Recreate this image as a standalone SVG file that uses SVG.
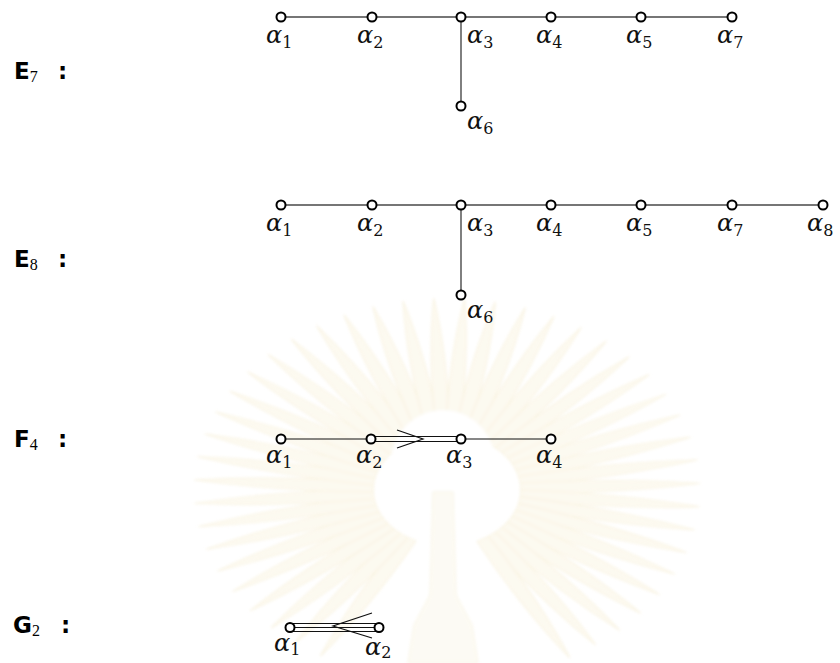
<svg xmlns="http://www.w3.org/2000/svg" xmlns:xlink="http://www.w3.org/1999/xlink" width="840" height="663" viewBox="0 0 840 663">
<style>
.edge{stroke:#4a4a4a;stroke-width:1.4;fill:none}
.edgeb{stroke:#111;stroke-width:1.2;fill:none}
.node{fill:#fff;stroke:#000;stroke-width:2}
.al{font-family:"DejaVu Serif","Liberation Serif",serif;font-style:italic;font-size:24px;fill:#111}
.sub{font-style:normal;font-size:16px}
.lab{font-family:"DejaVu Sans","Liberation Sans",sans-serif;font-weight:bold;font-size:23px;fill:#000}
.lsub{font-family:"Liberation Serif",serif;font-weight:normal;font-size:16px}
.ray{fill:#fcf8ea;stroke:#f5ecd0;stroke-width:0.8}
</style>
<defs>
<path id="ray" d="M -5 -56 Q -8 -130 0 -192 Q 8 -130 5 -56 Z"/>
<filter id="soft" x="-10%" y="-10%" width="120%" height="120%"><feGaussianBlur stdDeviation="1.8"/></filter>
</defs>
<rect width="840" height="663" fill="#fff"/>
<g id="watermark" opacity="0.7" filter="url(#soft)">
<g transform="translate(447,490) scale(1.32,1)" class="ray">
<use xlink:href="#ray" transform="rotate(-150)"/><use xlink:href="#ray" transform="rotate(-143)"/><use xlink:href="#ray" transform="rotate(-136)"/><use xlink:href="#ray" transform="rotate(-129)"/><use xlink:href="#ray" transform="rotate(-122)"/><use xlink:href="#ray" transform="rotate(-115)"/><use xlink:href="#ray" transform="rotate(-108)"/><use xlink:href="#ray" transform="rotate(-101)"/><use xlink:href="#ray" transform="rotate(-94)"/><use xlink:href="#ray" transform="rotate(-87)"/><use xlink:href="#ray" transform="rotate(-80)"/><use xlink:href="#ray" transform="rotate(-73)"/><use xlink:href="#ray" transform="rotate(-66)"/><use xlink:href="#ray" transform="rotate(-59)"/><use xlink:href="#ray" transform="rotate(-52)"/><use xlink:href="#ray" transform="rotate(-45)"/><use xlink:href="#ray" transform="rotate(-38)"/><use xlink:href="#ray" transform="rotate(-31)"/><use xlink:href="#ray" transform="rotate(-24)"/><use xlink:href="#ray" transform="rotate(-17)"/><use xlink:href="#ray" transform="rotate(-10)"/><use xlink:href="#ray" transform="rotate(-3)"/><use xlink:href="#ray" transform="rotate(4)"/><use xlink:href="#ray" transform="rotate(11)"/><use xlink:href="#ray" transform="rotate(18)"/><use xlink:href="#ray" transform="rotate(25)"/><use xlink:href="#ray" transform="rotate(32)"/><use xlink:href="#ray" transform="rotate(39)"/><use xlink:href="#ray" transform="rotate(46)"/><use xlink:href="#ray" transform="rotate(53)"/><use xlink:href="#ray" transform="rotate(60)"/><use xlink:href="#ray" transform="rotate(67)"/><use xlink:href="#ray" transform="rotate(74)"/><use xlink:href="#ray" transform="rotate(81)"/><use xlink:href="#ray" transform="rotate(88)"/><use xlink:href="#ray" transform="rotate(95)"/><use xlink:href="#ray" transform="rotate(102)"/><use xlink:href="#ray" transform="rotate(109)"/><use xlink:href="#ray" transform="rotate(116)"/><use xlink:href="#ray" transform="rotate(123)"/><use xlink:href="#ray" transform="rotate(130)"/><use xlink:href="#ray" transform="rotate(137)"/><use xlink:href="#ray" transform="rotate(144)"/><use xlink:href="#ray" transform="rotate(151)"/>
</g>
<circle cx="443" cy="462" r="52" fill="#fff"/>
<path d="M 433 492 L 453 492 L 456 595 L 472 625 L 478 663 L 408 663 L 414 625 L 430 595 Z" fill="#fcf9f0" stroke="#f5eed6" stroke-width="1"/>
</g>

<g id="labels">
<text class="lab" x="14" y="79">E<tspan class="lsub" dy="3">7</tspan></text><text class="lab" x="58" y="79">:</text>
<text class="lab" x="14" y="267">E<tspan class="lsub" dy="3">8</tspan></text><text class="lab" x="58" y="267">:</text>
<text class="lab" x="14" y="447">F<tspan class="lsub" dy="3">4</tspan></text><text class="lab" x="58" y="447">:</text>
<text class="lab" x="13" y="633">G<tspan class="lsub" dy="3">2</tspan></text><text class="lab" x="61" y="633">:</text>
</g>

<g id="connectors">
<path class="edge" d="M281 17 H732 M461 17 V106"/>
<path class="edge" d="M281 205 H823 M461 205 V295"/>
<path class="edgeb" d="M281 439 H371 M461 439 H551 M371 436.5 H461 M371 441.5 H461 M397 430 L423 439 L397 448"/>
<path class="edgeb" d="M290 623.5 H379 M290 627.5 H379 M290 631.5 H379 M372 613 L333 626 L372 638"/>
</g>

<g id="E7">
<g id="e7-a1"><circle class="node" cx="281" cy="17" r="4.5"/><text class="al" x="266" y="43">α<tspan class="sub" dy="5">1</tspan></text></g>
<g id="e7-a2"><circle class="node" cx="372" cy="17" r="4.5"/><text class="al" x="357" y="43">α<tspan class="sub" dy="5">2</tspan></text></g>
<g id="e7-a3"><circle class="node" cx="461" cy="17" r="4.5"/><text class="al" x="467" y="43">α<tspan class="sub" dy="5">3</tspan></text></g>
<g id="e7-a4"><circle class="node" cx="551" cy="17" r="4.5"/><text class="al" x="536" y="43">α<tspan class="sub" dy="5">4</tspan></text></g>
<g id="e7-a5"><circle class="node" cx="641" cy="17" r="4.5"/><text class="al" x="626" y="43">α<tspan class="sub" dy="5">5</tspan></text></g>
<g id="e7-a7"><circle class="node" cx="732" cy="17" r="4.5"/><text class="al" x="717" y="43">α<tspan class="sub" dy="5">7</tspan></text></g>
<g id="e7-a6"><circle class="node" cx="461" cy="106" r="4.5"/><text class="al" x="467" y="129">α<tspan class="sub" dy="5">6</tspan></text></g>
</g>

<g id="E8">
<g id="e8-a1"><circle class="node" cx="281" cy="205" r="4.5"/><text class="al" x="266" y="231">α<tspan class="sub" dy="5">1</tspan></text></g>
<g id="e8-a2"><circle class="node" cx="372" cy="205" r="4.5"/><text class="al" x="357" y="231">α<tspan class="sub" dy="5">2</tspan></text></g>
<g id="e8-a3"><circle class="node" cx="461" cy="205" r="4.5"/><text class="al" x="467" y="231">α<tspan class="sub" dy="5">3</tspan></text></g>
<g id="e8-a4"><circle class="node" cx="551" cy="205" r="4.5"/><text class="al" x="536" y="231">α<tspan class="sub" dy="5">4</tspan></text></g>
<g id="e8-a5"><circle class="node" cx="641" cy="205" r="4.5"/><text class="al" x="626" y="231">α<tspan class="sub" dy="5">5</tspan></text></g>
<g id="e8-a7"><circle class="node" cx="732" cy="205" r="4.5"/><text class="al" x="717" y="231">α<tspan class="sub" dy="5">7</tspan></text></g>
<g id="e8-a8"><circle class="node" cx="823" cy="205" r="4.5"/><text class="al" x="807" y="231">α<tspan class="sub" dy="5">8</tspan></text></g>
<g id="e8-a6"><circle class="node" cx="461" cy="295" r="4.5"/><text class="al" x="467" y="318">α<tspan class="sub" dy="5">6</tspan></text></g>
</g>

<g id="F4">
<g id="f4-a1"><circle class="node" cx="281" cy="439" r="4.5"/><text class="al" x="266" y="463">α<tspan class="sub" dy="5">1</tspan></text></g>
<g id="f4-a2"><circle class="node" cx="371" cy="439" r="4.5"/><text class="al" x="356" y="463">α<tspan class="sub" dy="5">2</tspan></text></g>
<g id="f4-a3"><circle class="node" cx="461" cy="439" r="4.5"/><text class="al" x="446" y="463">α<tspan class="sub" dy="5">3</tspan></text></g>
<g id="f4-a4"><circle class="node" cx="551" cy="439" r="4.5"/><text class="al" x="536" y="463">α<tspan class="sub" dy="5">4</tspan></text></g>
</g>

<g id="G2">
<g id="g2-a1"><circle class="node" cx="290" cy="627.5" r="4.5"/><text class="al" x="274" y="651">α<tspan class="sub" dy="4">1</tspan></text></g>
<g id="g2-a2"><circle class="node" cx="379" cy="627.5" r="4.5"/><text class="al" x="365" y="655">α<tspan class="sub" dy="3">2</tspan></text></g>
</g>
</svg>
